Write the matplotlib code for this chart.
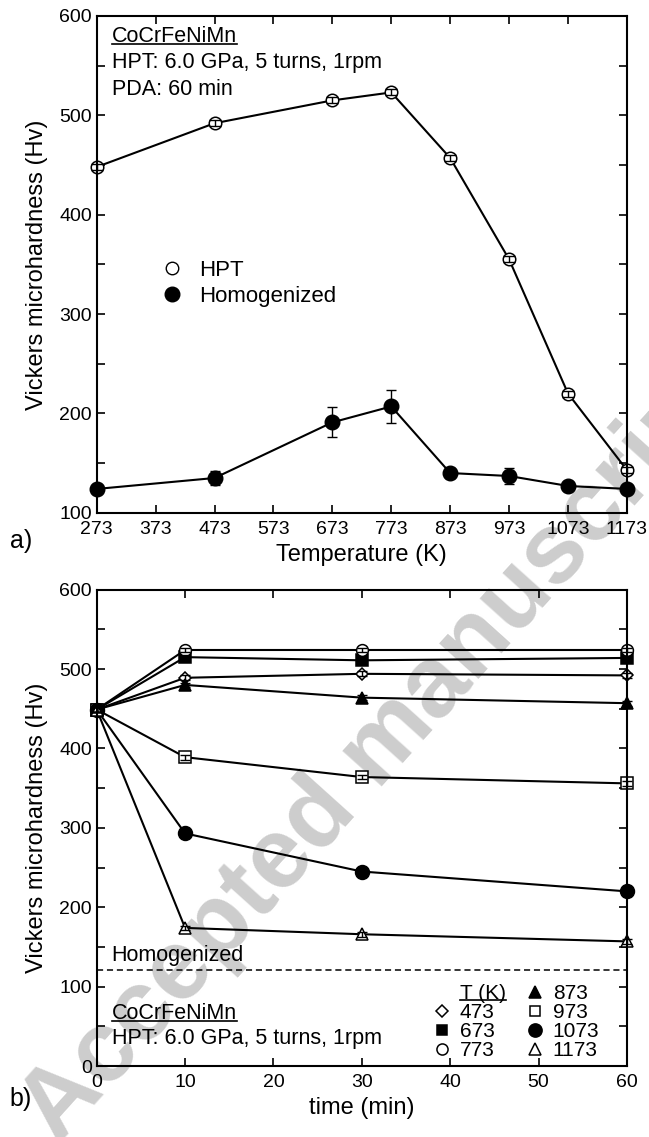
import matplotlib
matplotlib.use("Agg")
import matplotlib.pyplot as plt
from matplotlib.ticker import MultipleLocator
from matplotlib.lines import Line2D

plt.rcParams["font.family"] = ["Liberation Sans", "DejaVu Sans"]
plt.rcParams["font.size"] = 14

# ---- panel a) data ----
temps = [273, 473, 673, 773, 873, 973, 1073, 1173]
hv_hpt = [448, 492, 515, 523, 457, 355, 220, 143]
hv_hpt_err = [3, 3, 3, 3, 3, 3, 3, 3]
hv_hom = [124, 135, 191, 207, 140, 137, 127, 124]
hv_hom_err = [3, 7, 15, 17, 5, 8, 3, 3]
temp_ticks = [273, 373, 473, 573, 673, 773, 873, 973, 1073, 1173]

# ---- panel b) data ----
times = [0, 10, 30, 60]
anneal_T = ["473", "673", "773", "873", "973", "1073", "1173"]
hv_time = {
    "473": [449, 489, 494, 492],
    "673": [449, 515, 511, 514],
    "773": [449, 524, 524, 524],
    "873": [449, 480, 464, 457],
    "973": [449, 389, 364, 356],
    "1073": [449, 293, 245, 220],
    "1173": [449, 174, 166, 157],
}
hv_time_err = [3, 3, 3, 3]
homogenized_level = 121

markers = {
    "473": ("D", "white", 6.5),
    "673": ("s", "black", 8),
    "773": ("o", "white", 8.5),
    "873": ("^", "black", 9),
    "973": ("s", "white", 8),
    "1073": ("o", "black", 10),
    "1173": ("^", "white", 9),
}


def style_axes(ax):
    ax.set_facecolor("none")
    ax.tick_params(direction="in", which="both", top=True, right=True,
                   length=6, width=1.2, labelsize=14)
    for s in ax.spines.values():
        s.set_linewidth(1.5)
        s.set_zorder(6)


def underline(fig, ax, txt):
    fig.canvas.draw()
    bb = txt.get_window_extent().transformed(ax.transAxes.inverted())
    ax.plot([bb.x0, bb.x1], [bb.y0 + 0.006, bb.y0 + 0.006], color="black",
            lw=1.2, transform=ax.transAxes, clip_on=False)


fig = plt.figure(figsize=(6.49, 11.37), dpi=100)

# faint watermark behind both panels
fig.text(0.585, 0.34, "Accepted manuscript", fontsize=72, fontweight="bold",
         color="#cdcdcd", rotation=48, ha="center", va="center", zorder=-5)

# ---------- a) ----------
ax1 = fig.add_axes([0.149, 0.549, 0.817, 0.437])
ax1.plot(temps, hv_hpt, color="black", lw=1.5, marker="o", ms=9,
         mfc="white", mec="black", mew=1.1, zorder=3)
ax1.errorbar(temps, hv_hpt, yerr=hv_hpt_err, fmt="none", ecolor="black",
             capsize=4.5, elinewidth=1, capthick=1, zorder=4)
ax1.plot(temps, hv_hom, color="black", lw=1.5, marker="o", ms=10.5,
         mfc="black", mec="black", zorder=3)
ax1.errorbar(temps, hv_hom, yerr=hv_hom_err, fmt="none", ecolor="black",
             capsize=3.5, elinewidth=1, zorder=2)
for art in ax1.lines + ax1.collections:
    art.set_clip_on(False)
ax1.set_xlim(273, 1173)
ax1.set_ylim(100, 600)
ax1.set_xticks(temp_ticks)
ax1.yaxis.set_major_locator(MultipleLocator(100))
ax1.yaxis.set_minor_locator(MultipleLocator(50))
ax1.set_xlabel("Temperature (K)", fontsize=17, labelpad=4)
ax1.set_ylabel("Vickers microhardness (Hv)", fontsize=17, labelpad=8)
style_axes(ax1)
ax1.tick_params(axis="x", pad=6)

h1 = [Line2D([], [], ls="none", marker="o", ms=9, mfc="white", mec="black"),
      Line2D([], [], ls="none", marker="o", ms=10.5, mfc="black", mec="black")]
ax1.legend(h1, ["HPT", "Homogenized"], loc="upper left",
           bbox_to_anchor=(0.08, 0.55), frameon=False, fontsize=16,
           handletextpad=0.6, labelspacing=0.25, handlelength=1.2)

t1 = ax1.text(0.028, 0.958, "CoCrFeNiMn", transform=ax1.transAxes,
              fontsize=15.5, va="center", ha="left")
ax1.text(0.028, 0.906, "HPT: 6.0 GPa, 5 turns, 1rpm", transform=ax1.transAxes,
         fontsize=15.5, va="center", ha="left")
ax1.text(0.028, 0.852, "PDA: 60 min", transform=ax1.transAxes,
         fontsize=15.5, va="center", ha="left")
fig.text(0.015, 0.524, "a)", fontsize=18, ha="left", va="center")

# ---------- b) ----------
ax2 = fig.add_axes([0.149, 0.0624, 0.817, 0.419])
handles = []
for T in anneal_T:
    m, fc, ms = markers[T]
    ax2.plot(times, hv_time[T], color="black", lw=1.5, marker=m, ms=ms,
             mfc=fc, mec="black", mew=1.1, zorder=3, clip_on=False)
    ax2.errorbar(times, hv_time[T], yerr=hv_time_err, fmt="none",
                 ecolor="black", capsize=3.5, elinewidth=1, zorder=4,
                 clip_on=False)
    handles.append(Line2D([], [], ls="none", marker=m, ms=ms - 0.5, mfc=fc,
                          mec="black", mew=1.1))
ax2.axhline(homogenized_level, color="black", lw=1.1, ls=(0, (4, 2.5)))
ax2.text(1.6, homogenized_level + 5, "Homogenized", fontsize=15.5,
         ha="left", va="bottom")
ax2.set_xlim(0, 60)
ax2.set_ylim(0, 600)
ax2.xaxis.set_major_locator(MultipleLocator(10))
ax2.yaxis.set_major_locator(MultipleLocator(100))
ax2.yaxis.set_minor_locator(MultipleLocator(50))
ax2.set_xlabel("time (min)", fontsize=17, labelpad=4)
ax2.set_ylabel("Vickers microhardness (Hv)", fontsize=17, labelpad=8)
style_axes(ax2)
ax2.tick_params(axis="x", pad=6)

t2 = ax2.text(0.028, 0.111, "CoCrFeNiMn", transform=ax2.transAxes,
              fontsize=15.5, va="center", ha="left")
ax2.text(0.028, 0.057, "HPT: 6.0 GPa, 5 turns, 1rpm", transform=ax2.transAxes,
         fontsize=15.5, va="center", ha="left")

blank = Line2D([], [], ls="none")
leg = ax2.legend([blank] + handles, ["T (K)"] + anneal_T, ncol=2,
                 loc="lower left", bbox_to_anchor=(0.636, 0.012),
                 borderaxespad=0, borderpad=0, frameon=False, fontsize=15,
                 handlelength=0.8, handletextpad=0.45, columnspacing=1.0,
                 labelspacing=0.0)
fig.text(0.015, 0.033, "b)", fontsize=18, ha="left", va="center")

underline(fig, ax1, t1)
underline(fig, ax2, t2)
underline(fig, ax2, leg.get_texts()[0])

fig.savefig("out.png", dpi=100)
